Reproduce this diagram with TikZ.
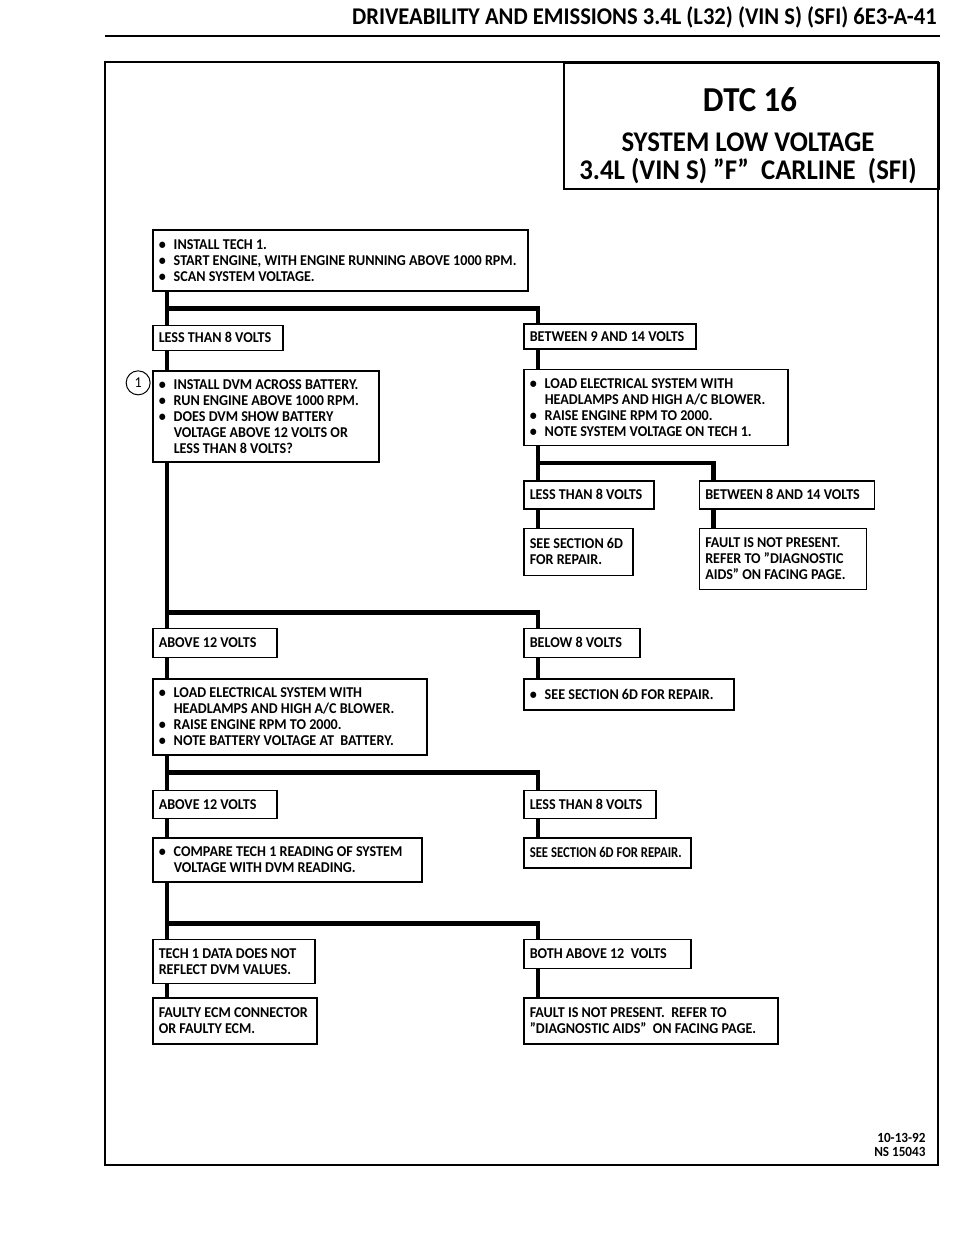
\documentclass[tikz,border=0pt]{standalone}
\usepackage{fontspec}
\usepackage{graphicx}
\setmainfont{Carlito}[FakeStretch=0.94]
\usetikzlibrary{calc,positioning}
\newcommand{\bul}{\makebox[15pt][l]{\textbullet}}
\newcommand{\hang}{\hspace*{15pt}}

\begin{document}
\begin{tikzpicture}[
    x=1pt, y=-1pt,
    font=\bfseries\fontsize{15}{16}\selectfont,
    box/.style={
      draw,
      line width=1.5pt,
      anchor=north west,
      align=flush left,
      inner xsep=6pt,
      inner ysep=0pt,
      execute at begin node={\hyphenpenalty=10000},
    },
    wire/.style={line width=4.5pt},
    num/.style={
      draw,
      circle,
      line width=1pt,
      minimum size=24pt,
      inner sep=0pt,
      font=\fontsize{15}{16}\selectfont,
    },
  ]
    \useasboundingbox (0,0) rectangle (960,1250);

    % page head and frame
    \node[anchor=base east, font=\bfseries\fontsize{24}{26}\selectfont] (hdr) at (940,24)
      {DRIVEABILITY AND EMISSIONS 3.4L (L32) (VIN S) (SFI) 6E3-A-41};
    \draw[line width=2pt] (105,36) -- (940,36);
    \draw[line width=2pt] (105,62) rectangle (938,1165);
    \node[draw, line width=1.5pt, anchor=north west, minimum width=375pt,
      minimum height=126pt] (ttl) at (563,62) {};
    \node[font=\bfseries\fontsize{35}{38}\selectfont] (dtc) at (750,100) {DTC 16};
    \node[align=center, font=\bfseries\fontsize{28.5}{28}\selectfont] (sub) at (748,158)
      {SYSTEM LOW VOLTAGE\\ 3.4L (VIN S) ”F”\ \ CARLINE\ \ (SFI)};

    % left column
    \node[box, text width=363pt, minimum height=61pt] (tA) at (152,229)
      {\bul INSTALL TECH 1.\\
       \bul START ENGINE, WITH ENGINE RUNNING ABOVE 1000 RPM.\\
       \bul SCAN SYSTEM VOLTAGE.};
    \node[box, below=33pt of tA.south west, anchor=north west, text width=118pt,
      minimum height=25pt] (l1) {LESS THAN 8 VOLTS};
    \node[box, below=19pt of l1.south west, anchor=north west, text width=214pt,
      minimum height=91pt] (tB)
      {\bul INSTALL DVM ACROSS BATTERY.\\
       \bul RUN ENGINE ABOVE 1000 RPM.\\
       \bul DOES DVM SHOW BATTERY\\
       \hang VOLTAGE ABOVE 12 VOLTS OR\\
       \hang LESS THAN 8 VOLTS?};
    \node[num, anchor=north east] (n1) at ([shift={(-5,4)}]tB.north west) {1};
    \node[box, below=165pt of tB.south west, anchor=north west, text width=112pt,
      minimum height=29pt] (l2) {ABOVE 12 VOLTS};
    \node[box, below=20pt of l2.south west, anchor=north west, text width=262pt,
      minimum height=76pt] (tD)
      {\bul LOAD ELECTRICAL SYSTEM WITH\\
       \hang HEADLAMPS AND HIGH A/C BLOWER.\\
       \bul RAISE ENGINE RPM TO 2000.\\
       \bul NOTE BATTERY VOLTAGE AT\ \ BATTERY.};
    \node[box, below=34pt of tD.south west, anchor=north west, text width=112pt,
      minimum height=28pt] (l3) {ABOVE 12 VOLTS};
    \node[box, below=18pt of l3.south west, anchor=north west, text width=257pt,
      minimum height=44pt] (tE)
      {\bul COMPARE TECH 1 READING OF SYSTEM\\
       \hang VOLTAGE WITH DVM READING.};
    \node[box, below=56pt of tE.south west, anchor=north west, text width=150pt,
      minimum height=44pt] (l4) {TECH 1 DATA DOES NOT\\ REFLECT DVM VALUES.};
    \node[box, below=13pt of l4.south west, anchor=north west, text width=152pt,
      minimum height=46pt] (tF) {FAULTY ECM CONNECTOR\\ OR FAULTY ECM.};

    % right column
    \node[box, text width=160pt, minimum height=25pt] (r1) at (523,323)
      {BETWEEN 9 AND 14 VOLTS};
    \node[box, below=19pt of r1.south west, anchor=north west, text width=252pt,
      minimum height=76pt] (tC)
      {\bul LOAD ELECTRICAL SYSTEM WITH\\
       \hang HEADLAMPS AND HIGH A/C BLOWER.\\
       \bul RAISE ENGINE RPM TO 2000.\\
       \bul NOTE SYSTEM VOLTAGE ON TECH 1.};
    \node[box, below=34pt of tC.south west, anchor=north west, text width=118pt,
      minimum height=28pt] (r2) {LESS THAN 8 VOLTS};
    \node[box, right=44pt of r2.north east, anchor=north west, text width=163pt,
      minimum height=28pt] (r3) {BETWEEN 8 AND 14 VOLTS};
    \node[box, below=18pt of r2.south west, anchor=north west, text width=97pt,
      minimum height=47pt] (tG) {SEE SECTION 6D\\ FOR REPAIR.};
    \node[box, below=18pt of r3.south west, anchor=north west, text width=155pt,
      minimum height=61pt] (tH)
      {FAULT IS NOT PRESENT.\\ REFER TO ”DIAGNOSTIC\\ AIDS” ON FACING PAGE.};
    \node[box, text width=104pt, minimum height=29pt] (r4)
      at (l2.north west -| r1.north west) {BELOW 8 VOLTS};
    \node[box, below=20pt of r4.south west, anchor=north west, text width=198pt,
      minimum height=31pt] (tI) {\bul SEE SECTION 6D FOR REPAIR.};
    \node[box, text width=120pt, minimum height=28pt] (r5)
      at (l3.north west -| r1.north west) {LESS THAN 8 VOLTS};
    \node[box, below=18pt of r5.south west, anchor=north west, text width=155pt,
      minimum height=30pt] (tJ) {\scalebox{0.9}[1]{SEE SECTION 6D FOR REPAIR.}};
    \node[box, text width=155pt, minimum height=29pt] (r6)
      at (l4.north west -| r1.north west) {BOTH ABOVE 12\ \ VOLTS};
    \node[box, below=28pt of r6.south west, anchor=north west, text width=242pt,
      minimum height=46pt] (tK)
      {FAULT IS NOT PRESENT.\ \ REFER TO\\ ”DIAGNOSTIC AIDS”\ \ ON FACING PAGE.};

    % connectors
    \foreach \a/\b in {l1/tB, l2/tD, l3/tE, l4/tF, r1/tC, r2/tG, r3/tH, r4/tI, r5/tJ, r6/tK}
      \draw[wire] ([xshift=15pt]\a.south west) -- ([xshift=15pt]\b.north west);
    \foreach \a/\l/\r/\d in {tA/l1/r1/17, tC/r2/r3/17, tB/l2/r4/150, tD/l3/r5/17, tE/l4/r6/41}
      \draw[wire] ([xshift=15pt]\a.south west) -- ([xshift=15pt]\l.north west)
        ($(\a.south west)+(15,\d)$) -| ([xshift=15pt]\r.north west);

    \node[anchor=south east, align=right, font=\bfseries\fontsize{14}{14}\selectfont] (stamp)
      at (929,1160) {10-13-92\\NS 15043};
  \end{tikzpicture}
\end{document}
